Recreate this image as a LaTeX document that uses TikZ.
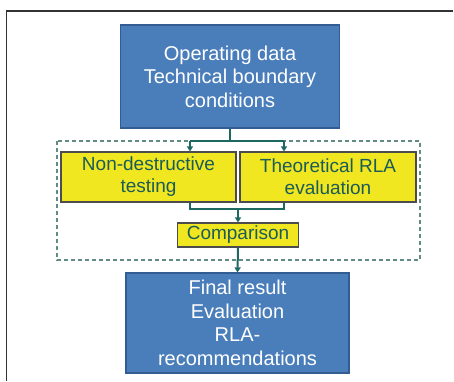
\documentclass[tikz,border=0pt]{standalone}
\usepackage{fontspec}
\setmainfont{Liberation Sans}
\usetikzlibrary{positioning,arrows.meta,calc}
\definecolor{BoxBlue}{RGB}{74,126,187}
\definecolor{BoxBlueEdge}{RGB}{50,92,146}
\definecolor{BoxYellow}{RGB}{240,231,32}
\definecolor{LinkTeal}{RGB}{30,104,98}
\definecolor{TextTeal}{RGB}{28,92,88}
\definecolor{DashTeal}{RGB}{96,140,132}

\begin{document}
\begin{tikzpicture}[
        x=1pt, y=-1pt,
        >={Triangle[width=6pt,length=5pt]},
        bluebox/.style={draw=BoxBlueEdge, fill=BoxBlue, text=white, line width=1.2pt,
            align=center, inner sep=0pt, font=\fontsize{20}{23.5}\selectfont},
        yellowbox/.style={draw=black!70, fill=BoxYellow, text=TextTeal, line width=1.2pt,
            align=center, inner sep=0pt, font=\fontsize{19}{22}\selectfont},
        link/.style={LinkTeal, line width=2pt},
    ]

    \useasboundingbox (0,0) rectangle (454,381);

    % Page frame (top and left edge)
    \draw[black!80, line width=1.3pt] (453,11) -- (6.5,11) -- (6.5,381);

    % Dashed group around the evaluation steps
    \draw[DashTeal, line width=1.5pt, dash pattern=on 4pt off 3pt] (57,141) rectangle (420,260);

    % Input and result
    \node[bluebox, minimum width=219, minimum height=103] (ops) at (230,76.5)
        {Operating data\\Technical boundary\\conditions};
    \node[bluebox, minimum width=223, minimum height=100] (res) at (237.5,323)
        {Final result\\Evaluation\\RLA-\\recommendations};

    % Evaluation steps
    \node[yellowbox, minimum width=175, minimum height=50] (ndt) at (148.5,177)
        {Non-destructive\\testing};
    \node[yellowbox, minimum width=176, minimum height=50] (rla) at (328,177)
        {Theoretical RLA\\evaluation};
    \node[yellowbox, minimum width=121, minimum height=24] (cmp) at (238,235)
        {Comparison};

    % Split to both steps
    \coordinate (inL) at (190,141);
    \coordinate (inR) at (284,141);
    \draw[link] (ops.south) -- (ops.south |- inL);
    \draw[link] (inL) -- (inR);
    \draw[link, ->] (inL) -- (inL |- ndt.north);
    \draw[link, ->] (inR) -- (inR |- rla.north);

    % Join into comparison
    \coordinate (outL) at (190,209);
    \coordinate (outR) at (284,209);
    \draw[link] (outL |- ndt.south) -- (outL) -- (outR) -- (outR |- rla.south);
    \draw[link, ->] (cmp.north |- outL) -- (cmp.north);

    % Comparison to final result
    \draw[link, ->] (cmp.south) -- (res.north);
\end{tikzpicture}
\end{document}
